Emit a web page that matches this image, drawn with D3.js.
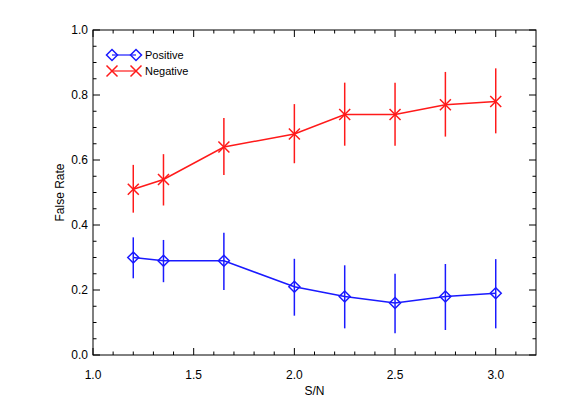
<!DOCTYPE html>
<html>
<head>
<meta charset="utf-8">
<script src="https://cdn.jsdelivr.net/npm/d3@7"></script>
<style>
  body { margin: 0; background: #fff; }
  text { font-family: "Liberation Sans", Arial, sans-serif; fill: #000; }
</style>
</head>
<body>
<div id="chart"></div>
<script>
// S/N values shared by both series
var snr = [1.2, 1.35, 1.65, 2.0, 2.25, 2.5, 2.75, 3.0];

// false rate for positive / negative, with error bar ends
var posRate = [0.30, 0.29, 0.29, 0.21, 0.18, 0.16, 0.18, 0.19];
var posLow = [0.236, 0.224, 0.20, 0.121, 0.082, 0.067, 0.077, 0.082];
var posHigh = [0.362, 0.354, 0.376, 0.296, 0.276, 0.25, 0.28, 0.295];

var negRate = [0.51, 0.54, 0.64, 0.68, 0.74, 0.74, 0.77, 0.78];
var negLow = [0.438, 0.46, 0.554, 0.59, 0.644, 0.644, 0.672, 0.682];
var negHigh = [0.585, 0.618, 0.729, 0.772, 0.838, 0.838, 0.871, 0.882];

var xTicks = [1.0, 1.5, 2.0, 2.5, 3.0];
var yTicks = [0.0, 0.2, 0.4, 0.6, 0.8, 1.0];
var seriesNames = ["Positive", "Negative"];

var width = 564, height = 415;
var margin = {left: 93, right: 28, top: 30, bottom: 60};

var svg = d3.select("#chart").append("svg")
    .attr("width", width)
    .attr("height", height);

var x = d3.scaleLinear().domain([1.0, 3.2]).range([margin.left, width - margin.right]);
var y = d3.scaleLinear().domain([0, 1]).range([height - margin.bottom, margin.top]);

var x0 = x.range()[0], x1 = x.range()[1];
var y0 = y.range()[0], y1 = y.range()[1];

// ticks on all four sides, IDL style (inward)
var xMinor = d3.range(1.1, 3.2, 0.1).map(function (d) { return +d.toFixed(2); })
    .filter(function (d) { return Math.abs(d * 2 - Math.round(d * 2)) > 1e-6; });
var yMinor = d3.range(0.05, 1.0, 0.05).map(function (d) { return +d.toFixed(2); })
    .filter(function (d) { return Math.abs(d * 5 - Math.round(d * 5)) > 1e-6; });

var ticks = svg.append("g").attr("stroke", "#000").attr("stroke-width", 1);

function xTickLines(vals, len) {
    vals.forEach(function (v) {
        ticks.append("line").attr("x1", x(v)).attr("x2", x(v)).attr("y1", y0).attr("y2", y0 - len);
        ticks.append("line").attr("x1", x(v)).attr("x2", x(v)).attr("y1", y1).attr("y2", y1 + len);
    });
}
function yTickLines(vals, len) {
    vals.forEach(function (v) {
        ticks.append("line").attr("y1", y(v)).attr("y2", y(v)).attr("x1", x0).attr("x2", x0 + len);
        ticks.append("line").attr("y1", y(v)).attr("y2", y(v)).attr("x1", x1).attr("x2", x1 - len);
    });
}
xTickLines(xTicks, 7);
xTickLines(xMinor, 3.5);
yTickLines(yTicks, 7);
yTickLines(yMinor, 3.5);

// frame
svg.append("rect")
    .attr("x", x0).attr("y", y1)
    .attr("width", x1 - x0).attr("height", y0 - y1)
    .attr("fill", "none").attr("stroke", "#000").attr("stroke-width", 1);

// tick labels
svg.append("g").selectAll("text").data(xTicks).enter().append("text")
    .attr("x", function (d) { return x(d); })
    .attr("y", y0 + 24)
    .attr("text-anchor", "middle")
    .attr("font-size", 12)
    .text(function (d) { return d.toFixed(1); });

svg.append("g").selectAll("text").data(yTicks).enter().append("text")
    .attr("x", x0 - 5)
    .attr("y", function (d) { return y(d); })
    .attr("dy", "0.35em")
    .attr("text-anchor", "end")
    .attr("font-size", 12)
    .text(function (d) { return d.toFixed(1); });

// axis titles
svg.append("text")
    .attr("x", (x0 + x1) / 2)
    .attr("y", y0 + 40)
    .attr("text-anchor", "middle")
    .attr("font-size", 12)
    .text("S/N");

svg.append("text")
    .attr("transform", "translate(" + 64 + "," + ((y0 + y1) / 2) + ") rotate(-90)")
    .attr("text-anchor", "middle")
    .attr("font-size", 12)
    .text("False Rate");

// markers
function diamond(g, cx, cy, color) {
    var r = 5.5;
    g.append("path")
        .attr("d", "M" + cx + "," + (cy - r) + "L" + (cx + r) + "," + cy + "L" + cx + "," + (cy + r) + "L" + (cx - r) + "," + cy + "Z")
        .attr("fill", "none").attr("stroke", color).attr("stroke-width", 1.5);
}
function cross(g, cx, cy, color) {
    var r = 5.5;
    g.append("path")
        .attr("d", "M" + (cx - r) + "," + (cy - r) + "L" + (cx + r) + "," + (cy + r) + "M" + (cx - r) + "," + (cy + r) + "L" + (cx + r) + "," + (cy - r))
        .attr("fill", "none").attr("stroke", color).attr("stroke-width", 1.5);
}

function drawSeries(vals, low, high, color, marker) {
    var g = svg.append("g");
    var line = d3.line()
        .x(function (d, i) { return x(snr[i]); })
        .y(function (d) { return y(d); });
    g.append("path").datum(vals)
        .attr("d", line)
        .attr("fill", "none")
        .attr("stroke", color)
        .attr("stroke-width", 1.5);
    g.selectAll("line.err").data(vals).enter().append("line")
        .attr("class", "err")
        .attr("x1", function (d, i) { return x(snr[i]); })
        .attr("x2", function (d, i) { return x(snr[i]); })
        .attr("y1", function (d, i) { return y(low[i]); })
        .attr("y2", function (d, i) { return y(high[i]); })
        .attr("stroke", color)
        .attr("stroke-width", 1.5);
    vals.forEach(function (d, i) { marker(g, x(snr[i]), y(d), color); });
}

drawSeries(posRate, posLow, posHigh, "#1a1aff", diamond);
drawSeries(negRate, negLow, negHigh, "#ff1a1a", cross);

// legend
var legend = svg.append("g");
var legendColors = ["#1a1aff", "#ff1a1a"];
var legendMarkers = [diamond, cross];
seriesNames.forEach(function (name, i) {
    var ly = 55 + i * 16;
    legend.append("line")
        .attr("x1", 112).attr("x2", 136)
        .attr("y1", ly).attr("y2", ly)
        .attr("stroke", legendColors[i]).attr("stroke-width", 1.2);
    legendMarkers[i](legend, 112, ly, legendColors[i]);
    legendMarkers[i](legend, 136, ly, legendColors[i]);
    legend.append("text")
        .attr("x", 145).attr("y", ly)
        .attr("dy", "0.35em")
        .attr("font-size", 11)
        .text(name);
});
</script>
</body>
</html>
